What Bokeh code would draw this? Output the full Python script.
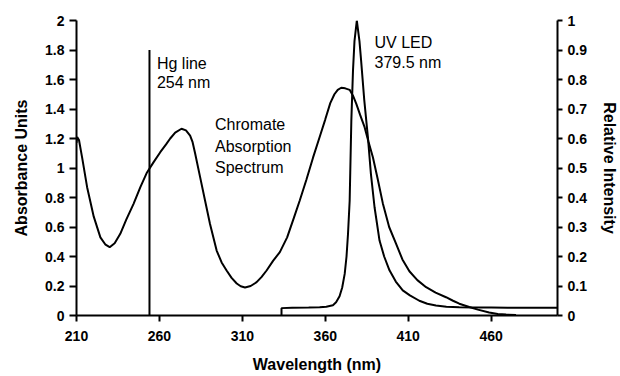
from bokeh.plotting import figure
from bokeh.models import (Range1d, LinearAxis, FixedTicker, CustomJSTickFormatter,
                          ColumnDataSource)
from bokeh.core.properties import value
from bokeh.embed import file_html
from bokeh.resources import INLINE

# ---- data ----
chromate_wl = [210, 210.4, 211.5, 213.4, 216.4, 220.4, 224.4, 227.5, 230, 233, 236.4, 240,
               244.4, 248.5, 252.5, 256.5, 260.5, 264, 266.5, 269.5, 273.3, 276, 278.5,
               280, 281.5, 284.5, 287.5, 290.5, 294.5, 297.5, 300.5, 303.5, 306.6, 309,
               311.6, 315, 318.6, 321.5, 324.6, 328.5, 332.6, 337, 341, 344.6, 348.6,
               352.6, 356.6, 360, 363, 365.5, 367.5, 369.6, 372, 374.7, 376.7, 378.7, 381,
               383.7, 386, 388.7, 391.5, 394.7, 398.5, 402.7, 406.5, 410.7, 415.5, 420.8,
               426.5, 432.8, 437, 440.8, 446.8, 452, 458.8, 464, 469, 475]
chromate_abs = [1.17, 1.21, 1.19, 1.07, 0.87, 0.67, 0.53, 0.48, 0.463, 0.49, 0.554, 0.65,
                0.757, 0.87, 0.97, 1.04, 1.107, 1.16, 1.2, 1.24, 1.266, 1.255, 1.22,
                1.175, 1.1, 0.94, 0.78, 0.62, 0.44, 0.36, 0.305, 0.255, 0.217, 0.198,
                0.19, 0.2, 0.226, 0.26, 0.305, 0.37, 0.43, 0.53, 0.66, 0.78, 0.92,
                1.07, 1.21, 1.33, 1.44, 1.5, 1.53, 1.544, 1.54, 1.53, 1.49, 1.435, 1.36,
                1.277, 1.18, 1.073, 0.93, 0.76, 0.6, 0.486, 0.38, 0.3, 0.24, 0.192,
                0.155, 0.124, 0.1, 0.08, 0.058, 0.04, 0.02, 0.01, 0.006, 0.003]

led_wl = [333.6, 333.6, 340, 350, 356.6, 360.6, 364.6, 366.5, 368.6, 370.2, 371.7, 372.8,
          373.7, 374.7, 375.7, 376.7, 377.6, 379, 380.6, 381.6, 383.5, 385.7, 387.5,
          389.7, 392.7, 395.5, 398.7, 402.5, 406.7, 411, 416.7, 421.5, 426.7, 433,
          440.8, 450, 460, 470, 480, 490, 500]
led_int = [0, 0.025, 0.026, 0.027, 0.028, 0.03, 0.035, 0.045, 0.065, 0.095, 0.141, 0.2,
           0.277, 0.39, 0.66, 0.83, 0.93, 1.0, 0.93, 0.864, 0.73, 0.604, 0.48,
           0.367, 0.254, 0.2, 0.153, 0.115, 0.085, 0.068, 0.05, 0.04, 0.034, 0.03,
           0.028, 0.027, 0.027, 0.026, 0.026, 0.026, 0.026]

hg_wl = [254, 254]
hg_abs = [0, 1.8]

x_ticks = [210, 260, 310, 360, 410, 460]
left_ticks = [0, 0.2, 0.4, 0.6, 0.8, 1.0, 1.2, 1.4, 1.6, 1.8, 2.0]
right_ticks = [0, 0.1, 0.2, 0.3, 0.4, 0.5, 0.6, 0.7, 0.8, 0.9, 1.0]

ann_x = [258.5, 258.5, 293.5, 293.5, 293.5, 389.7, 389.7]
ann_y = [1.708, 1.580, 1.295, 1.148, 1.005, 1.853, 1.713]
ann_text = ["Hg line", "254 nm", "Chromate", "Absorption", "Spectrum", "UV LED", "379.5 nm"]

FONT = "Liberation Sans"

p = figure(width=620, height=376, output_backend="svg", toolbar_location=None,
           x_range=Range1d(210, 500), y_range=Range1d(0, 2),
           min_border_left=76, min_border_right=62, min_border_top=20, min_border_bottom=61)
p.extra_y_ranges = {"rel": Range1d(0, 1)}
p.outline_line_color = None
p.xgrid.visible = False
p.ygrid.visible = False

FMT = "return String(Math.round(tick*10)/10);"

def style_axis(ax, tick_out):
    ax.axis_line_width = 2
    ax.axis_line_color = "black"
    ax.major_tick_line_width = 2
    ax.major_tick_line_color = "black"
    ax.major_tick_out = tick_out
    ax.major_tick_in = 0
    ax.minor_tick_line_color = None
    ax.major_label_text_font = FONT
    ax.major_label_text_font_style = "bold"
    ax.major_label_text_font_size = "14px"
    ax.major_label_text_color = "black"
    ax.axis_label_text_font = FONT
    ax.axis_label_text_font_style = "bold"
    ax.axis_label_text_font_size = "16px"
    ax.axis_label_text_color = "black"

xa = p.xaxis[0]
xa.ticker = FixedTicker(ticks=x_ticks)
xa.axis_label = "Wavelength (nm)"
style_axis(xa, 6)
xa.major_label_standoff = 9
xa.axis_label_standoff = 12

ya = p.yaxis[0]
ya.ticker = FixedTicker(ticks=left_ticks)
ya.formatter = CustomJSTickFormatter(code=FMT)
ya.axis_label = "Absorbance Units"
style_axis(ya, 7)
ya.major_label_standoff = 5
ya.axis_label_standoff = 12

ra = LinearAxis(y_range_name="rel", ticker=FixedTicker(ticks=right_ticks),
                formatter=CustomJSTickFormatter(code=FMT),
                axis_label="Relative Intensity")
style_axis(ra, 5)
ra.major_label_standoff = 5
ra.axis_label_standoff = 11
p.add_layout(ra, "right")

p.line(chromate_wl, chromate_abs, line_color="black", line_width=2)
p.line(led_wl, led_int, line_color="black", line_width=2, y_range_name="rel")
p.line(hg_wl, hg_abs, line_color="black", line_width=2)

src = ColumnDataSource(dict(x=ann_x, y=ann_y, text=ann_text))
p.text(x="x", y="y", text="text", source=src, text_font=value(FONT),
       text_font_size="16px", text_color="black", text_baseline="alphabetic",
       text_align="left")

open("out.html", "w").write(file_html(p, INLINE))
